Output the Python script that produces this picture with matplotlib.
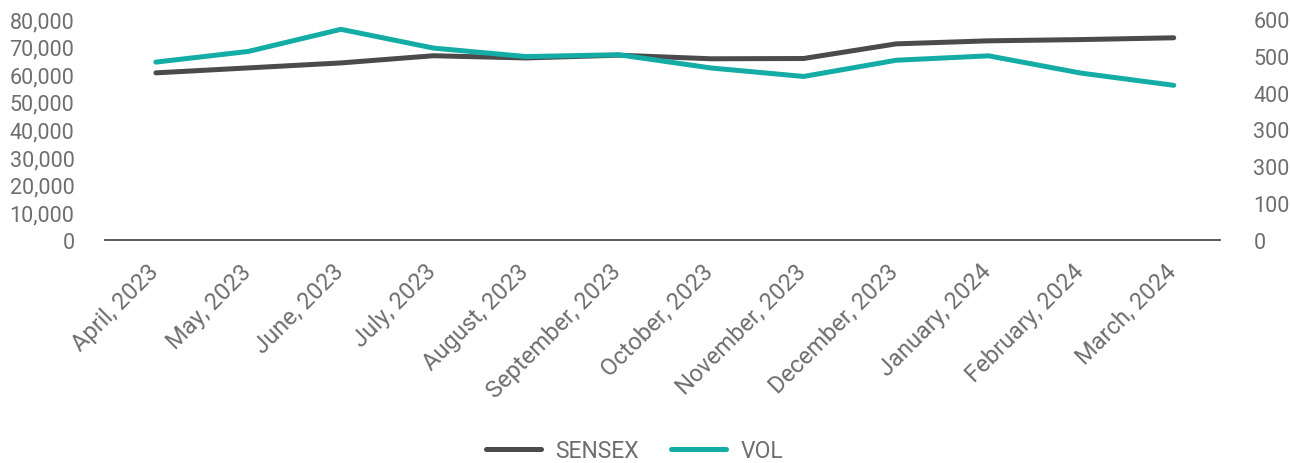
import matplotlib
matplotlib.use("Agg")
import matplotlib.pyplot as plt
import matplotlib.transforms as mtransforms
from matplotlib.ticker import FixedLocator, FixedFormatter, FuncFormatter

plt.rcParams["font.family"] = ["Roboto", "DejaVu Sans"]

# data
months = ["April, 2023", "May, 2023", "June, 2023", "July, 2023", "August, 2023",
          "September, 2023", "October, 2023", "November, 2023", "December, 2023",
          "January, 2024", "February, 2024", "March, 2024"]
sensex = [60500, 62300, 64100, 66700, 65900, 66900, 65600, 65700, 71000, 72100, 72550, 73200]
vol = [483, 512, 572, 521, 498, 503, 467, 444, 488, 500, 453, 420]

left_ticks = [0, 10000, 20000, 30000, 40000, 50000, 60000, 70000, 80000]
right_ticks = [0, 100, 200, 300, 400, 500, 600]
right_labels = ["0", "100", "300", "300", "400", "500", "600"]

grey_txt = "#6e6e6e"
c_sensex = "#4b4b4d"
c_vol = "#14ada5"

fig = plt.figure(figsize=(12.9, 4.64), dpi=100)
ax = fig.add_axes([105 / 1290, 1 - 241 / 464, (1220 - 105) / 1290, 221 / 464])
ax2 = ax.twinx()

x = list(range(len(months)))
l1, = ax.plot(x, sensex, color=c_sensex, lw=3.6, solid_capstyle="round", label="SENSEX")
l2, = ax2.plot(x, vol, color=c_vol, lw=3.6, solid_capstyle="round", label="VOL")

ax.set_xlim(-0.55, 11.5)
ax.set_ylim(0, 80000)
ax2.set_ylim(0, 600)

ax.yaxis.set_major_locator(FixedLocator(left_ticks))
ax.yaxis.set_major_formatter(FuncFormatter(lambda v, p: f"{int(v):,}"))
ax2.yaxis.set_major_locator(FixedLocator(right_ticks))
ax2.yaxis.set_major_formatter(FixedFormatter(right_labels))

ax.set_xticks(x)
ax.set_xticklabels(months, rotation=45, ha="right", rotation_mode="anchor")

for a in (ax, ax2):
    for s in ("top", "left", "right"):
        a.spines[s].set_visible(False)
    a.spines["bottom"].set_color("#595959")
    a.spines["bottom"].set_linewidth(1.2)
    a.tick_params(length=0, labelsize=15.5, labelcolor=grey_txt)

ax.tick_params(axis="y", pad=22)
ax2.tick_params(axis="y", pad=24)
ax.tick_params(axis="x", pad=14, labelsize=17)

# pull the rotated labels left so their ends sit at the ticks
shift = mtransforms.ScaledTranslation(-9 / 100, 0, fig.dpi_scale_trans)
for t in ax.get_xticklabels():
    t.set_transform(t.get_transform() + shift)

leg = fig.legend(handles=[l1, l2], loc="center", bbox_to_anchor=(0.492, 0.027),
                 ncol=2, frameon=False, fontsize=16.5, handlelength=2.4,
                 columnspacing=1.4, handletextpad=0.65)
for t in leg.get_texts():
    t.set_color(grey_txt)

fig.savefig("out.png", dpi=100)
